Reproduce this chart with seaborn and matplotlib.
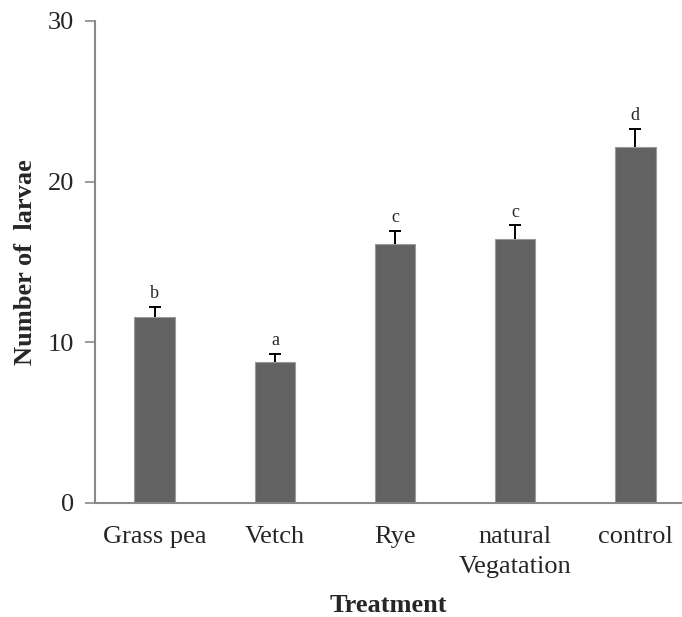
import pandas as pd
import numpy as np
import matplotlib
matplotlib.use("Agg")
import matplotlib.pyplot as plt
import seaborn as sns

# Data
treatments = ["Grass pea", "Vetch", "Rye", "natural\nVegatation", "control"]
larvae_mean = [11.6, 8.75, 16.1, 16.45, 22.15]
larvae_se = [0.62, 0.5, 0.85, 0.82, 1.15]
letters = ["b", "a", "c", "c", "d"]

df = pd.DataFrame({"Treatment": treatments, "Larvae": larvae_mean})

sns.set_style("white")
plt.rcParams["font.family"] = ["Liberation Serif", "DejaVu Serif"]

fig = plt.figure(figsize=(6.82, 6.17), dpi=100)
ax = fig.add_axes([0.139, 0.185, 0.861, 0.781])

sns.barplot(data=df, x="Treatment", y="Larvae", color="#626262", width=0.34,
            edgecolor="#9a9a9a", linewidth=0.8, saturation=1, ax=ax)

# upper error bars only (hide the lower cap)
x = np.arange(len(treatments))
eb = ax.errorbar(x, larvae_mean, yerr=[np.zeros(len(x)), larvae_se], fmt="none",
                 ecolor="black", elinewidth=1.4, capsize=4.5, capthick=1.4)
eb[1][0].set_visible(False)

# significance letters
for i, (m, s, l) in enumerate(zip(larvae_mean, larvae_se, letters)):
    ax.text(i, m + s + 0.3, l, ha="center", va="bottom", fontsize=13)

ax.set_ylim(0, 30)
ax.set_yticks([0, 10, 20, 30])
ax.set_xlim(-0.5, 4.39)

for sp in ["top", "right"]:
    ax.spines[sp].set_visible(False)
for sp in ["left", "bottom"]:
    ax.spines[sp].set_color("#8a8a8a")
    ax.spines[sp].set_linewidth(1.5)

ax.tick_params(axis="y", direction="out", length=7, width=1.2, color="#8a8a8a",
               labelsize=19, pad=8, left=True)
ax.tick_params(axis="x", length=0, labelsize=19, pad=17)
for lab in ax.get_xticklabels():
    lab.set_linespacing(1.42)

ax.set_ylabel("Number of  larvae", fontsize=19, fontweight="bold")
ax.set_xlabel("Treatment", fontsize=19, fontweight="bold")
ax.yaxis.set_label_coords(-0.098, 0.5)
ax.xaxis.set_label_coords(0.5, -0.19)

fig.savefig("out.png", dpi=100)
